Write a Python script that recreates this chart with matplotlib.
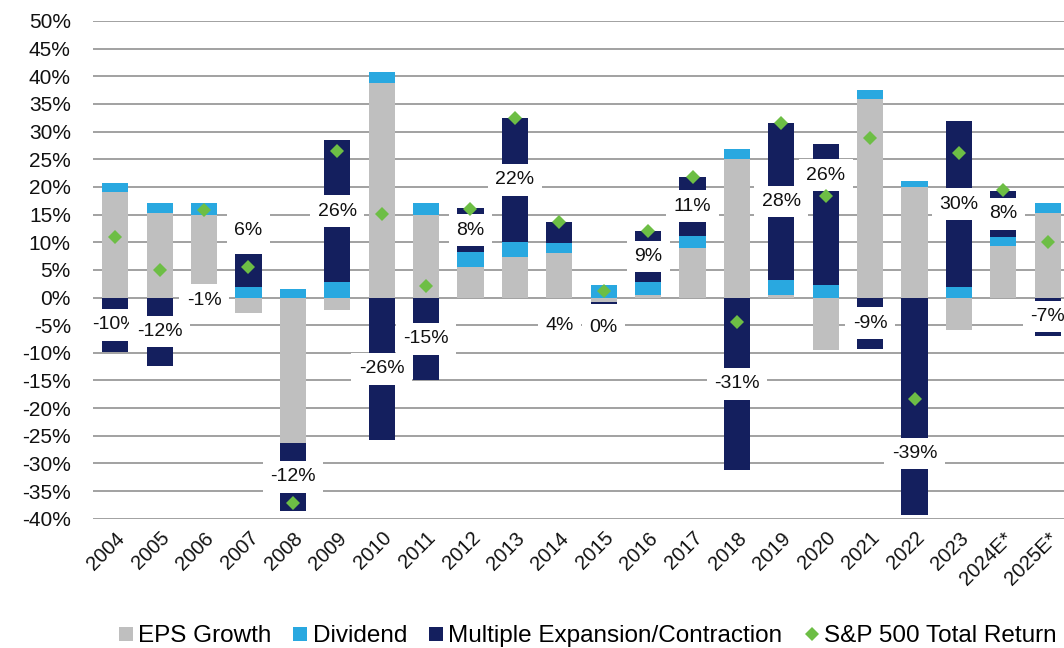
import numpy as np
import matplotlib
matplotlib.use("Agg")
import matplotlib.pyplot as plt
from matplotlib.lines import Line2D
from matplotlib.ticker import FuncFormatter

plt.rcParams['font.family'] = ['Liberation Sans', 'DejaVu Sans']

years = ['2004', '2005', '2006', '2007', '2008', '2009', '2010', '2011', '2012', '2013',
         '2014', '2015', '2016', '2017', '2018', '2019', '2020', '2021', '2022', '2023',
         '2024E*', '2025E*']
eps_growth = [19.0, 15.3, 14.9, -2.8, -26.3, -2.2, 38.7, 15.0, 5.6, 7.3,
              8.0, -0.9, 0.5, 8.9, 25.0, 0.5, -9.5, 35.9, 20.0, -5.9,
              9.3, 15.3]
dividend = [1.7, 1.7, 2.1, 1.9, 1.5, 2.8, 2.0, 2.0, 2.6, 2.8,
            1.9, 2.2, 2.3, 2.3, 1.8, 2.7, 2.2, 1.7, 1.0, 1.9,
            1.6, 1.7]
multiple = [-9.9, -12.3, -1.0, 6.0, -12.3, 25.6, -25.8, -14.9, 7.9, 22.4,
            3.7, -0.3, 9.2, 10.6, -31.2, 28.3, 25.6, -9.3, -39.4, 30.0,
            8.4, -6.9]
total_return = [10.9, 4.9, 15.8, 5.5, -37.2, 26.5, 15.1, 2.1, 16.0, 32.4,
                13.7, 1.2, 12.0, 21.8, -4.5, 31.5, 18.4, 28.8, -18.3, 26.2,
                19.4, 10.0]

GRAY = '#BFBFBF'
BLUE = '#29A8E0'
NAVY = '#141F5E'
GREEN = '#6DBE45'

W, H = 1064, 648
fig = plt.figure(figsize=(W / 100, H / 100), dpi=100)
ax = fig.add_axes([93 / W, 1 - 518.7 / H, (1070 - 93) / W, (518.7 - 21) / H])

n = len(years)
x = np.arange(n)
pos = np.zeros(n)
neg = np.zeros(n)
mult_bottom = None
for vals, color in [(eps_growth, GRAY), (dividend, BLUE), (multiple, NAVY)]:
    v = np.array(vals, dtype=float)
    bottom = np.where(v >= 0, pos, neg)
    ax.bar(x, v, width=0.59, bottom=bottom, color=color, zorder=2, linewidth=0)
    if color == NAVY:
        mult_bottom = bottom.copy()
    pos += np.where(v >= 0, v, 0)
    neg += np.where(v < 0, v, 0)

# data labels for multiple expansion/contraction (some were moved by hand in the original)
nudge = {'2007': 7.3, '2014': -16.9, '2015': -4.4, '2020': 7.1, '2022': -8.5}
for i, yr in enumerate(years):
    m = multiple[i]
    yc = mult_bottom[i] + m / 2 + nudge.get(yr, 0)
    ax.text(x[i], yc, f"{int(round(m))}%", ha='center', va='center', fontsize=14,
            color='#111111', zorder=4,
            bbox=dict(boxstyle='square,pad=0.38', fc='white', ec='none'))

ax.plot(x, total_return, linestyle='none', marker='D', markersize=7.6,
        color=GREEN, markeredgewidth=0, zorder=5)

ax.set_xlim(-0.5, n - 0.5)
ax.set_ylim(-40, 50)
ax.set_yticks(np.arange(-40, 51, 5))
ax.yaxis.set_major_formatter(FuncFormatter(lambda v, p: f"{int(round(v))}%"))
ax.yaxis.grid(True, color='#9A9A9A', linewidth=1.3, zorder=0)
ax.set_axisbelow(True)
for s in ax.spines.values():
    s.set_visible(False)
ax.tick_params(axis='y', length=0, pad=16, labelsize=15, labelcolor='#111111')
ax.set_xticks(x)
ax.set_xticklabels(years, rotation=45, ha='right', va='top', rotation_mode='anchor',
                   fontsize=14.5, color='#111111')
ax.tick_params(axis='x', length=0, pad=7)

handles = [
    Line2D([], [], linestyle='none', marker='s', markersize=9.5, color=GRAY, markeredgewidth=0),
    Line2D([], [], linestyle='none', marker='s', markersize=9.5, color=BLUE, markeredgewidth=0),
    Line2D([], [], linestyle='none', marker='s', markersize=9.5, color=NAVY, markeredgewidth=0),
    Line2D([], [], linestyle='none', marker='D', markersize=7, color=GREEN, markeredgewidth=0),
]
labels = ['EPS Growth', 'Dividend', 'Multiple Expansion/Contraction', 'S&P 500 Total Return']
fig.legend(handles, labels, loc='center', bbox_to_anchor=(0.552, 1 - 636 / H), ncol=4,
           frameon=False, fontsize=17.5, handlelength=0.6, handletextpad=0.2,
           columnspacing=0.9, borderaxespad=0, borderpad=0)

fig.savefig('out.png', dpi=100)
